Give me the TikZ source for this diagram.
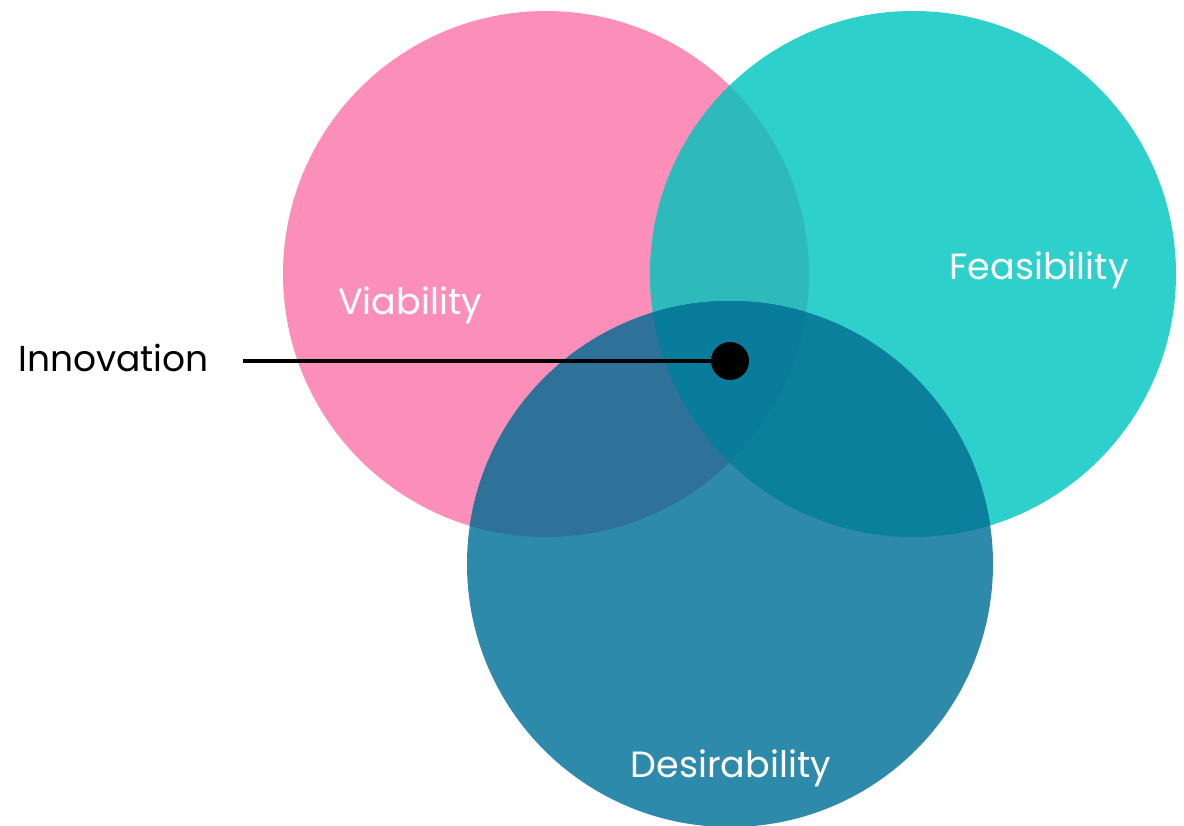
\documentclass[tikz,border=0pt]{standalone}
\usepackage{fontspec}
\setmainfont{Poppins}
\definecolor{cP}{RGB}{252,143,185}
\definecolor{cT}{RGB}{46,208,203}
\definecolor{cB}{RGB}{46,138,171}
\definecolor{cPT}{RGB}{46,185,187}
\definecolor{cPB}{RGB}{46,113,153}
\definecolor{cTB}{RGB}{11,128,156}
\definecolor{cPTB}{RGB}{9,124,155}
\tikzset{
  lbl/.style={font=\fontsize{36.5}{40}\selectfont, text=white, inner sep=0pt, anchor=base},
  blk/.style={font=\fontsize{36}{40}\selectfont, text=black, inner sep=0pt, anchor=base west},
}
\begin{document}
\begin{tikzpicture}[x=1pt,y=-1pt]
\useasboundingbox (0,0) rectangle (1184,826);
\def\R{263}
\coordinate (cp) at (546,274);
\coordinate (ct) at (913,274);
\coordinate (cb) at (730,564);
\fill[cP] (cp) circle (\R);
\fill[cT] (ct) circle (\R);
\begin{scope}
  \clip (cp) circle (\R);
  \fill[cPT] (ct) circle (\R);
\end{scope}
\fill[cB] (cb) circle (\R);
\begin{scope}
  \clip (cb) circle (\R);
  \fill[cPB] (cp) circle (\R);
  \fill[cTB] (ct) circle (\R);
  \clip (cp) circle (\R);
  \fill[cPTB] (ct) circle (\R);
\end{scope}
\node[lbl] (via) at (410,315) {Viability};
\node[lbl] (fea) at (1039,280) {Feasibility};
\node[lbl] (des) at (731,777) {Desirability};
\node[blk] (inn) at (18,372) {Innovation};
\node[circle, fill=black, minimum size=38pt, inner sep=0pt] (dot) at (730,361) {};
\coordinate (ls) at (243,361);
\draw[line width=4pt] (ls) -- (dot.center);
\end{tikzpicture}
\end{document}
